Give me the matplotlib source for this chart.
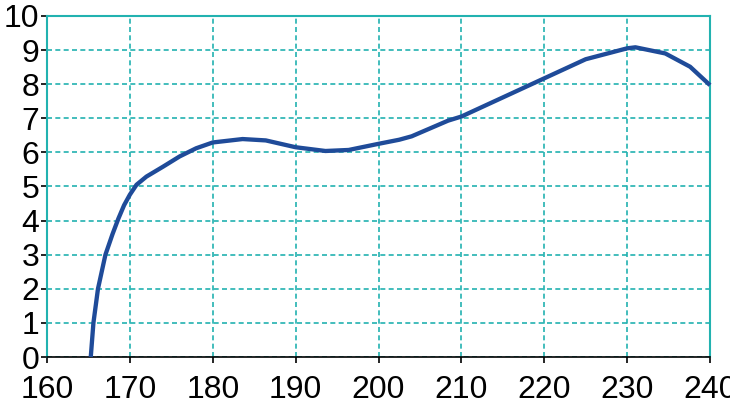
import matplotlib
matplotlib.use("Agg")
import matplotlib.pyplot as plt

# values
x_vals = [165.28, 165.6, 166.15, 167.05, 167.9, 168.6, 169.3, 170.0, 170.8, 172.0,
          174.0, 176.0, 178.0, 180.0, 183.6, 186.4, 190.0, 193.6, 196.4, 200.0,
          202.5, 204.0, 208.4, 210.0, 215.0, 220.0, 225.0, 230.0, 231.0, 234.6,
          237.6, 240.0]
y_vals = [0.0, 1.0, 2.0, 3.0, 3.6, 4.05, 4.45, 4.76, 5.05, 5.29,
          5.58, 5.88, 6.12, 6.29, 6.39, 6.35, 6.15, 6.04, 6.07, 6.25,
          6.37, 6.47, 6.93, 7.05, 7.61, 8.17, 8.73, 9.05, 9.08, 8.9,
          8.51, 7.97]

x_ticks = list(range(160, 241, 10))
y_ticks = list(range(0, 11))

teal = "#22b2b0"
blue = "#1f4b99"

plt.rcParams["font.family"] = ["Liberation Sans", "DejaVu Sans"]

fig = plt.figure(figsize=(7.3, 3.98), dpi=100)
ax = fig.add_axes([0.0644, 0.103, 0.9082, 0.857])

ax.plot(x_vals, y_vals, color=blue, lw=3.1, solid_joinstyle="round",
        solid_capstyle="butt", zorder=3, clip_on=False)

ax.set_xlim(160, 240)
ax.set_ylim(0, 10)
ax.set_xticks(x_ticks)
ax.set_yticks(y_ticks)
ax.grid(True, color=teal, ls=(0, (3, 2)), lw=1.2)

for side in ["left", "right", "top"]:
    ax.spines[side].set_color(teal)
    ax.spines[side].set_linewidth(1.5)
ax.spines["bottom"].set_color("black")
ax.spines["bottom"].set_linewidth(1.2)

ax.tick_params(axis="both", direction="out", length=4, width=1.2,
               colors="black", labelsize=23)
ax.tick_params(axis="y", pad=1.5)
ax.tick_params(axis="x", pad=9)

fig.savefig("out.png", dpi=100)
